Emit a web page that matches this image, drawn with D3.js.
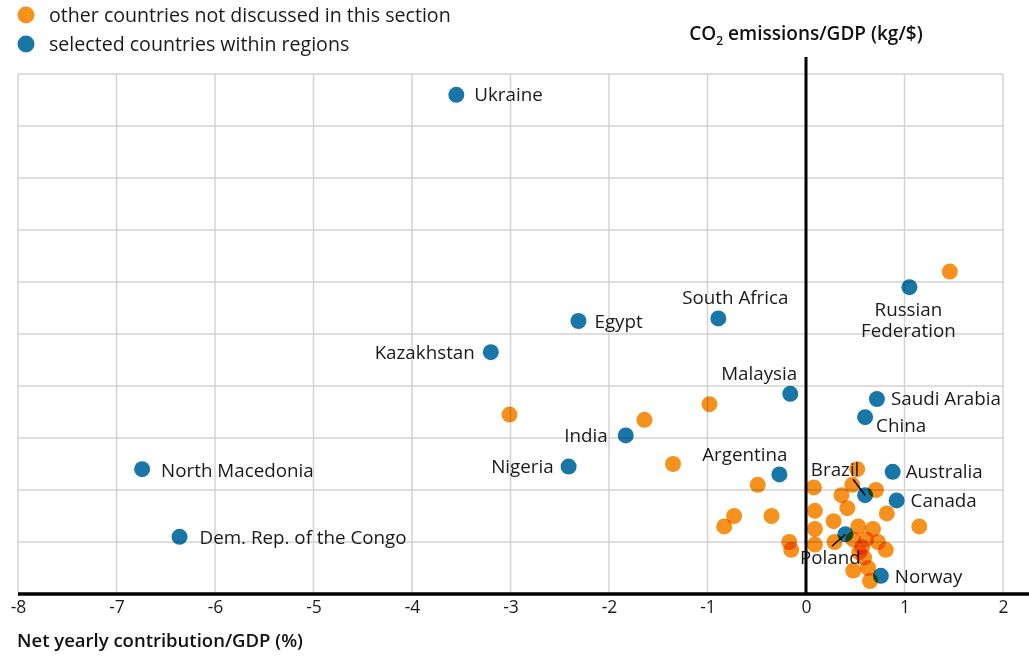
<!DOCTYPE html>
<html>
<head>
<meta charset="utf-8">
<script src="https://cdn.jsdelivr.net/npm/d3@7"></script>
<style>
  html, body { margin: 0; padding: 0; background: #fff; }
  svg { display: block; font-family: "Open Sans", "DejaVu Sans", sans-serif; }
  .dot { mix-blend-mode: multiply; }
</style>
</head>
<body>
<svg id="chart" width="1029" height="660"></svg>
<script>
// ---- data ----
const xTicks = [-8, -7, -6, -5, -4, -3, -2, -1, 0, 1, 2];
const yGrid = [0, 0.2, 0.4, 0.6, 0.8, 1.0, 1.2, 1.4, 1.6, 1.8, 2.0];

const selectedNames = ["Ukraine", "Egypt", "South Africa", "Kazakhstan", "Malaysia",
  "Russian Federation", "Saudi Arabia", "China", "India", "Nigeria", "Argentina",
  "North Macedonia", "Dem. Rep. of the Congo", "Australia", "Canada", "Brazil", "Poland", "Norway"];
const selectedX = [-3.55, -2.31, -0.89, -3.20, -0.16, 1.05, 0.72, 0.60, -1.83, -2.41, -0.27,
  -6.74, -6.36, 0.88, 0.92, 0.60, 0.40, 0.76];
const selectedY = [1.92, 1.05, 1.06, 0.93, 0.77, 1.18, 0.75, 0.68, 0.61, 0.49, 0.46,
  0.48, 0.22, 0.47, 0.36, 0.38, 0.23, 0.07];

const otherX = [1.46, -0.98, -3.01, -1.64, -1.35, -0.49, -0.73, -0.83, -0.35, -0.17, -0.15,
  1.15, 0.52, 0.08, 0.47, 0.36, 0.71, 0.09, 0.42, 0.82, 0.28, 0.09, 0.53, 0.68, 0.09,
  0.29, 0.48, 0.61, 0.73, 0.81, 0.54, 0.59, 0.48, 0.63, 0.65, 0.57];
const otherY = [1.24, 0.73, 0.69, 0.67, 0.50, 0.42, 0.30, 0.26, 0.30, 0.20, 0.17,
  0.26, 0.48, 0.41, 0.42, 0.38, 0.40, 0.32, 0.33, 0.31, 0.28, 0.25, 0.26, 0.25, 0.19,
  0.20, 0.21, 0.21, 0.20, 0.17, 0.16, 0.14, 0.09, 0.10, 0.05, 0.18];

const legendLabels = ["other countries not discussed in this section", "selected countries within regions"];
const xTitle = "Net yearly contribution/GDP (%)";

// ---- layout / style ----
const colors = { other: "#f7911e", selected: "#1877a6" };
const labelLayout = {
  "Ukraine": { dx: 18, dy: 0, anchor: "start" },
  "Egypt": { dx: 16, dy: 0, anchor: "start" },
  "South Africa": { dx: 17, dy: -21, anchor: "middle" },
  "Kazakhstan": { dx: -16, dy: 0, anchor: "end" },
  "Malaysia": { dx: 7, dy: -20, anchor: "end" },
  "Russian Federation": { dx: -1, dy: 22, anchor: "middle", lines: ["Russian", "Federation"] },
  "Saudi Arabia": { dx: 14, dy: -1, anchor: "start" },
  "China": { dx: 11, dy: 8, anchor: "start" },
  "India": { dx: -18, dy: 0, anchor: "end" },
  "Nigeria": { dx: -15, dy: 0, anchor: "end" },
  "Argentina": { dx: 8, dy: -20, anchor: "end" },
  "North Macedonia": { dx: 19, dy: 1, anchor: "start" },
  "Dem. Rep. of the Congo": { dx: 20, dy: 1, anchor: "start" },
  "Australia": { dx: 13, dy: 0, anchor: "start" },
  "Canada": { dx: 14, dy: 0, anchor: "start" },
  "Brazil": { dx: -30, dy: -26, anchor: "middle", leader: [-12, -16] },
  "Poland": { dx: -15, dy: 23, anchor: "middle", leader: [-13.5, 12] },
  "Norway": { dx: 14, dy: 1, anchor: "start" }
};

const svg = d3.select("#chart");
const W = 1029;
const x = d3.scaleLinear().domain([-8, 2]).range([18, 1003]);
const y = d3.scaleLinear().domain([0, 2]).range([594, 74]);
const R = 8;

// grid
const grid = svg.append("g");
grid.selectAll("line.v").data(xTicks).join("line")
  .attr("x1", d => x(d)).attr("x2", d => x(d))
  .attr("y1", y(2)).attr("y2", y(0) - 2)
  .attr("stroke", "#d3d3d5").attr("stroke-width", 1.5);
grid.selectAll("line.h").data(yGrid.slice(1)).join("line")
  .attr("x1", x(-8)).attr("x2", x(2))
  .attr("y1", d => y(d)).attr("y2", d => y(d))
  .attr("stroke", "#d3d3d5").attr("stroke-width", 1.5);

// zero line
svg.append("line")
  .attr("x1", x(0)).attr("x2", x(0))
  .attr("y1", 57).attr("y2", y(0))
  .attr("stroke", "#000").attr("stroke-width", 3);

// dots
const others = otherX.map((v, i) => ({ x: v, y: otherY[i] }));
const selected = selectedNames.map((n, i) => ({ name: n, x: selectedX[i], y: selectedY[i] }));

svg.append("g").selectAll("circle").data(others).join("circle")
  .attr("class", "dot")
  .attr("cx", d => x(d.x)).attr("cy", d => y(d.y)).attr("r", R)
  .attr("fill", colors.other);
svg.append("g").selectAll("circle").data(selected).join("circle")
  .attr("class", "dot")
  .attr("cx", d => x(d.x)).attr("cy", d => y(d.y)).attr("r", R)
  .attr("fill", colors.selected);

// labels
const lab = svg.append("g").attr("font-size", 18.8).attr("fill", "#1a1a1a");
selected.forEach(d => {
  const L = labelLayout[d.name];
  const px = x(d.x), py = y(d.y);
  const lines = L.lines || [d.name];
  lines.forEach((s, i) => {
    lab.append("text")
      .attr("text-anchor", L.anchor)
      .attr("x", px + L.dx).attr("y", py + L.dy + i * 21).attr("dy", "0.35em")
      .text(s);
  });
  if (L.leader) {
    lab.append("line")
      .attr("x1", px + L.leader[0]).attr("y1", py + L.leader[1])
      .attr("x2", px).attr("y2", py)
      .attr("stroke", "#000").attr("stroke-width", 1.5);
  }
});

// x axis
const axis = d3.axisBottom(x).tickValues(xTicks).tickSize(0).tickPadding(7)
  .tickFormat(d => String(d));
const ax = svg.append("g").attr("transform", `translate(0,${y(0)})`).call(axis);
ax.select(".domain").remove();
ax.selectAll("text").attr("font-size", 17.5).attr("fill", "#1a1a1a")
  .attr("font-family", "'Open Sans', sans-serif");
svg.append("line")
  .attr("x1", x(-8)).attr("x2", W)
  .attr("y1", y(0)).attr("y2", y(0))
  .attr("stroke", "#000").attr("stroke-width", 3.5);

// axis titles
svg.append("text").attr("x", 17).attr("y", 641).attr("dy", "0.35em")
  .attr("font-size", 18.5).attr("font-weight", 600).attr("fill", "#111")
  .text(xTitle);
const yt = svg.append("text").attr("x", x(0)).attr("y", 33).attr("dy", "0.35em")
  .attr("text-anchor", "middle").attr("font-size", 19).attr("font-weight", 600).attr("fill", "#111");
yt.append("tspan").text("CO");
yt.append("tspan").attr("font-size", 12).attr("dy", 5).text("2");
yt.append("tspan").attr("dy", -5).text(" emissions/GDP (kg/$)");

// legend
const leg = svg.append("g");
legendLabels.forEach((s, i) => {
  leg.append("circle").attr("cx", 26).attr("cy", 15 + i * 29).attr("r", 8.5)
    .attr("fill", i === 0 ? colors.other : colors.selected);
  leg.append("text").attr("x", 49).attr("y", 15 + i * 29).attr("dy", "0.35em")
    .attr("font-size", 19.6).attr("fill", "#1a1a1a").text(s);
});
</script>
</body>
</html>
